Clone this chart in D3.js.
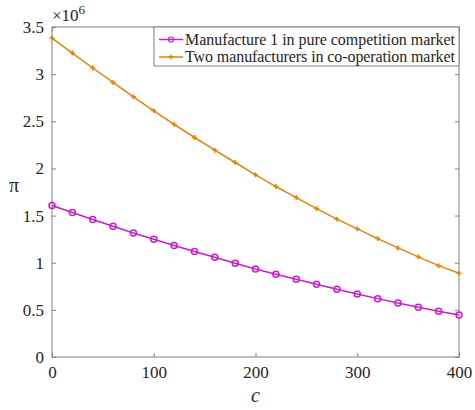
<!DOCTYPE html>
<html>
<head>
<script src="https://d3js.org/d3.v7.min.js"></script>
<style>
  body { margin: 0; background: #fff; }
  svg, svg text { font-family: "Times New Roman", "Liberation Serif", serif !important; }
  .axis path, .axis line { stroke: #808080; }
</style>
</head>
<body>
<script>
var cost = [0, 20, 40, 60, 80, 100, 120, 140, 160, 180, 200, 220, 240, 260, 280, 300, 320, 340, 360, 380, 400];
// profit, units of 1e6
var competition = [1.606, 1.532, 1.458, 1.387, 1.316, 1.249, 1.182, 1.118, 1.058, 0.995, 0.934,
                   0.878, 0.825, 0.772, 0.719, 0.669, 0.619, 0.573, 0.528, 0.485, 0.446];
var cooperation = [3.383, 3.224, 3.065, 2.912, 2.760, 2.611, 2.466, 2.328, 2.194, 2.063, 1.932,
                   1.808, 1.691, 1.574, 1.462, 1.359, 1.256, 1.157, 1.062, 0.969, 0.889];
var seriesNames = ["Manufacture 1 in pure competition market", "Two manufacturers in co-operation market"];
var xTicks = [0, 100, 200, 300, 400];
var yTicks = [0, 0.5, 1, 1.5, 2, 2.5, 3, 3.5];

var margin = {top: 27, right: 16, bottom: 53, left: 52};
var W = 475, H = 410;
var w = W - margin.left - margin.right;
var h = H - margin.top - margin.bottom;

var svg = d3.select("body").append("svg").attr("width", W).attr("height", H);
var g = svg.append("g").attr("transform", "translate(" + margin.left + "," + margin.top + ")");

var x = d3.scaleLinear().domain([0, 400]).range([0, w]);
var y = d3.scaleLinear().domain([0, 3.5]).range([h, 0]);

// box
g.append("rect").attr("width", w).attr("height", h)
  .attr("fill", "none").attr("stroke", "#808080");

var xAxis = g.append("g").attr("class", "axis").attr("transform", "translate(0," + h + ")")
  .call(d3.axisBottom(x).tickValues(xTicks).tickSizeInner(-4).tickSizeOuter(0).tickPadding(9).tickFormat(d3.format("d")));
var yAxis = g.append("g").attr("class", "axis")
  .call(d3.axisLeft(y).tickValues(yTicks).tickSizeInner(-4).tickSizeOuter(0).tickPadding(8).tickFormat(function (d) { return d; }));
g.append("g").attr("class", "axis").attr("transform", "translate(" + w + ",0)")
  .call(d3.axisRight(y).tickValues(yTicks).tickSizeInner(-4).tickSizeOuter(0).tickFormat(""));
g.append("g").attr("class", "axis")
  .call(d3.axisTop(x).tickValues(xTicks).tickSizeInner(-4).tickSizeOuter(0).tickFormat(""));
g.selectAll(".axis .domain").remove();
[xAxis, yAxis].forEach(function (a) {
  a.attr("font-size", 17);
  a.selectAll("text").attr("fill", "#262626");
});

var colors = ["#c81ec8", "#e2820c"];
var line = d3.line().x(function (d, i) { return x(cost[i]); }).y(function (d) { return y(d); });

[competition, cooperation].forEach(function (s, k) {
  g.append("path").datum(s).attr("d", line)
    .attr("fill", "none").attr("stroke", colors[k]).attr("stroke-width", 1.5);
});

// circle markers
g.selectAll(".circ").data(competition).enter().append("circle")
  .attr("cx", function (d, i) { return x(cost[i]); })
  .attr("cy", function (d) { return y(d); })
  .attr("r", 3).attr("fill", "none").attr("stroke", colors[0]).attr("stroke-width", 1.5);

// plus markers
g.selectAll(".plus").data(cooperation).enter().append("path")
  .attr("transform", function (d, i) { return "translate(" + x(cost[i]) + "," + y(d) + ")"; })
  .attr("d", "M-2.5,0H2.5M0,-2.5V2.5")
  .attr("stroke", colors[1]).attr("stroke-width", 1.5);

// axis labels
svg.append("text").attr("x", margin.left + w / 2).attr("y", 402)
  .attr("text-anchor", "middle").attr("font-style", "italic").attr("font-size", 20)
  .attr("fill", "#262626").text("c");
svg.append("text").attr("x", 14).attr("y", margin.top + h / 2)
  .attr("text-anchor", "middle").attr("font-size", 20)
  .attr("fill", "#262626").text("π");

// exponent
var ex = svg.append("text").attr("x", margin.left).attr("y", 21)
  .attr("fill", "#262626").attr("font-size", 17);
ex.append("tspan").text("×10");
ex.append("tspan").attr("dy", -7).attr("font-size", 13).text("6");

// legend
var lg = g.append("g").attr("transform", "translate(" + (w - 305) + ",0)");
lg.append("rect").attr("width", 305).attr("height", 39)
  .attr("fill", "#fff").attr("stroke", "#808080").attr("stroke-width", 1);
seriesNames.forEach(function (name, k) {
  var cy = 12.5 + k * 17.5;
  lg.append("line").attr("x1", 5).attr("x2", 29).attr("y1", cy).attr("y2", cy)
    .attr("stroke", colors[k]).attr("stroke-width", 1.5);
  if (k === 0) {
    lg.append("circle").attr("cx", 17).attr("cy", cy).attr("r", 2.5)
      .attr("fill", "none").attr("stroke", colors[k]).attr("stroke-width", 1.2);
  } else {
    lg.append("path").attr("transform", "translate(17," + cy + ")")
      .attr("d", "M-2.5,0H2.5M0,-2.5V2.5").attr("stroke", colors[k]).attr("stroke-width", 1.5);
  }
  lg.append("text").attr("x", 31).attr("y", cy + 5).attr("fill", "#262626")
    .attr("font-size", 16).attr("textLength", 270).text(name);
});
</script>
</body>
</html>
